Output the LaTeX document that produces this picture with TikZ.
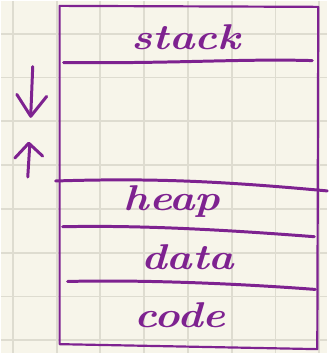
\documentclass[tikz,border=0pt]{standalone}
\usepackage{tikz}
\definecolor{paper}{HTML}{F7F5EA}
\definecolor{gridline}{HTML}{DEDCD0}
\definecolor{ink}{HTML}{7E2290}
\tikzset{
  pen/.style={ink, line width=3pt, line cap=round, line join=round},
  seglabel/.style={ink, font=\bfseries\itshape\fontsize{36}{36}\selectfont, xscale=1.2}
}

\begin{document}
\begin{tikzpicture}[x=1pt,y=-1pt]
% squared paper
\fill[paper] (0,0) rectangle (328,354);
\foreach \g in {12,56,...,330}
  \draw[gridline, line width=1.8pt] (\g,0) -- (\g,354);
\foreach \g in {33,77,...,354}
  \draw[gridline, line width=1.8pt] (0,\g) -- (328,\g);
\useasboundingbox (0,0) rectangle (328,354);

% memory box
\coordinate (A) at (59,5);
\coordinate (B) at (319,6);
\coordinate (C) at (318,350);
\coordinate (D) at (59,345);
	\draw[pen, line width=2.2pt] (A) -- (B) -- (C) -- (D) -- cycle;

% segment borders
	\draw[pen] (63,62) .. controls (180,63) and (240,58) .. (313,60);
	\draw[pen] (55,181) .. controls (150,178) and (220,181) .. (328,191);
	\draw[pen] (62,227) .. controls (150,225) and (250,232) .. (315,237);
	\draw[pen] (67,282) .. controls (150,280) and (250,285) .. (316,290);

% growth arrows
	\draw[pen] (32,66) -- (30,115);
	\draw[pen] (16,94) -- (30,116) -- (46,96);
	\draw[pen] (27,177) -- (29,145);
	\draw[pen] (14,158) -- (28,143) -- (42,156);

\node[seglabel] (stack) at (186,36) {stack};
\node[seglabel] (heap) at (172,202) {heap};
\node[seglabel] (data) at (188,258) {data};
\node[seglabel] (code) at (180,316) {code};
\end{tikzpicture}
\end{document}
